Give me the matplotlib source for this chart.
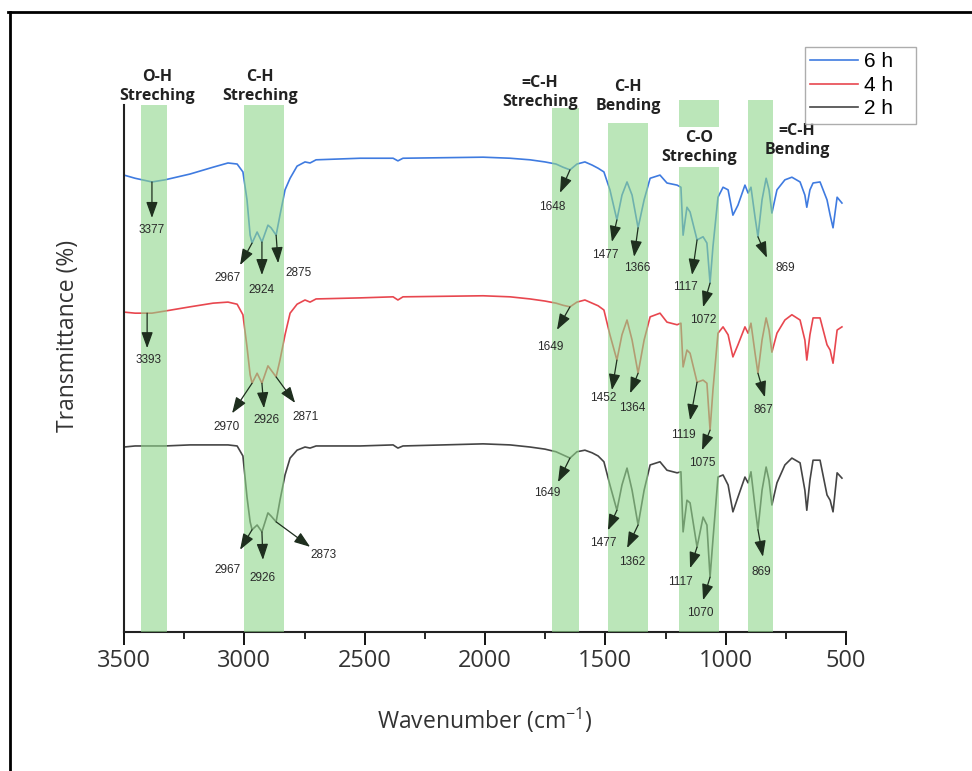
import numpy as np
import matplotlib.pyplot as plt
from matplotlib.lines import Line2D
from matplotlib.ticker import MultipleLocator

plt.rcParams['font.family'] = ['Open Sans', 'DejaVu Sans']
plt.rcParams['mathtext.fontset'] = 'custom'
plt.rcParams['mathtext.rm'] = 'Open Sans'

# spectra (wavenumber in cm-1, transmittance with the stacking offset)
wavenumber = [3500, 3454, 3404, 3384, 3330, 3226, 3130, 3068, 3030, 3006,
              2989, 2976, 2968, 2947, 2927, 2902, 2889, 2868, 2852, 2831,
              2810, 2781, 2748, 2727, 2702, 2519, 2382, 2362, 2341, 2008,
              1896, 1813, 1751, 1705, 1676, 1647, 1618, 1585, 1555, 1530,
              1506, 1481, 1452, 1431, 1410, 1389, 1364, 1339, 1314, 1273,
              1244, 1202, 1186, 1177, 1161, 1148, 1119, 1094, 1078, 1065,
              1053, 1032, 1011, 990, 970, 949, 920, 907, 895, 878,
              866, 849, 832, 820, 808, 787, 754, 725, 691, 671,
              663, 650, 637, 608, 579, 566, 554, 537, 517]

t_6h = [86.7, 86.1, 85.6, 85.4, 85.8, 86.9, 88.2, 89.0, 88.8, 87.3,
        82.0, 75.3, 73.8, 75.9, 74.0, 77.2, 76.7, 75.3, 79.1, 83.9,
        86.1, 88.4, 89.2, 89.0, 89.6, 89.9, 89.9, 89.4, 89.9, 90.1,
        89.9, 89.6, 89.2, 88.8, 88.2, 87.7, 88.8, 89.2, 88.6, 88.0,
        87.3, 83.9, 78.2, 82.9, 85.4, 82.9, 76.7, 82.0, 86.1, 86.7,
        85.2, 84.8, 84.4, 75.3, 80.6, 79.7, 74.4, 75.0, 73.8, 66.2,
        73.1, 82.5, 84.4, 83.9, 79.1, 81.0, 84.8, 83.3, 84.4, 78.7,
        75.0, 82.0, 86.1, 83.9, 79.5, 83.9, 85.8, 86.3, 85.4, 82.9,
        80.6, 83.9, 85.2, 85.4, 82.0, 79.1, 76.7, 82.5, 81.4]

t_4h = [60.7, 60.5, 60.5, 60.5, 60.9, 61.7, 62.4, 62.6, 62.2, 60.2,
        54.1, 48.8, 47.2, 49.1, 47.2, 50.5, 49.7, 48.4, 51.6, 56.4,
        60.5, 62.2, 63.0, 62.6, 63.2, 63.4, 63.6, 63.0, 63.6, 63.8,
        63.6, 63.2, 62.8, 62.4, 62.0, 61.7, 62.6, 63.0, 62.4, 61.9,
        61.1, 56.4, 51.6, 56.4, 59.2, 55.4, 49.1, 55.4, 59.8, 60.5,
        58.8, 58.3, 58.6, 50.3, 53.5, 52.9, 47.4, 47.8, 47.2, 38.3,
        45.9, 56.7, 57.9, 56.4, 52.2, 54.5, 57.9, 56.7, 58.6, 52.9,
        49.1, 55.4, 59.6, 57.3, 53.1, 56.7, 59.2, 60.2, 59.2, 55.4,
        51.6, 56.4, 59.6, 59.6, 54.5, 53.5, 51.0, 57.3, 57.9]

t_2h = [35.1, 35.3, 35.3, 35.3, 35.3, 35.5, 35.5, 35.5, 35.3, 33.4,
        25.6, 20.9, 19.4, 20.3, 19.0, 22.6, 22.0, 20.9, 25.0, 29.8,
        33.0, 34.5, 35.1, 34.9, 35.3, 35.3, 35.5, 34.9, 35.3, 35.7,
        35.5, 35.1, 34.7, 34.2, 33.6, 33.0, 34.2, 34.5, 34.0, 33.4,
        32.3, 27.9, 23.1, 27.9, 31.1, 26.9, 20.3, 26.9, 31.7, 32.3,
        30.7, 30.2, 30.4, 19.0, 25.0, 24.5, 16.1, 21.8, 20.3, 10.4,
        17.5, 29.4, 29.8, 27.9, 22.8, 25.6, 29.4, 28.3, 30.4, 23.7,
        19.4, 26.9, 31.3, 28.8, 24.1, 28.3, 31.7, 33.0, 32.1, 26.9,
        23.1, 28.8, 32.6, 32.6, 26.0, 25.0, 22.8, 30.2, 29.2]

series_names = ['6 h', '4 h', '2 h']
line_colors = ['#3f7be0', '#e8474f', '#454545']

# highlighted regions (cm-1) and their labels
band_ranges = [(3429, 3321), (3001, 2835), (1722, 1610), (1489, 1323), (1194, 1028), (907, 803)]
band_names = ['O-H\nStreching', 'C-H\nStreching', '=C-H\nStreching',
              'C-H\nBending', 'C-O\nStreching', '=C-H\nBending']
band_tops = [1.0, 1.0, 0.994, 0.966, 1.01, 1.01]
band_label_pos = [(3363, 1.036), (2935, 1.036), (1771, 1.023), (1406, 1.017), (1111, 0.920), (704, 0.932)]

# peak labels: (text, wavenumber of the marked point)
peaks_6h = [('3377', 3384), ('2967', 2968), ('2924', 2927), ('2875', 2868), ('1648', 1647),
            ('1477', 1452), ('1366', 1364), ('1117', 1119), ('1072', 1065), ('869', 866)]
peaks_4h = [('3393', 3404), ('2970', 2968), ('2926', 2927), ('2871', 2868), ('1649', 1647),
            ('1452', 1452), ('1364', 1364), ('1119', 1119), ('1075', 1065), ('867', 866)]
peaks_2h = [('2967', 2968), ('2926', 2927), ('2873', 2868), ('1649', 1647),
            ('1477', 1452), ('1362', 1364), ('1117', 1119), ('1070', 1065), ('869', 866)]

# arrow tip and label offsets in pixels from the marked point
offs_6h = [(0, -36, 0, -48), (-12, -22, -24, -35), (0, -33, 0, -48), (2, -28, 22, -38),
           (-10, -23, -18, -37), (-5, -22, -12, -35), (-4, -29, -1, -40), (-5, -35, -12, -47),
           (-7, -24, -7, -37), (9, -21, 27, -31)]
offs_4h = [(0, -35, 1, -47), (-20, -30, -25, -44), (2, -25, 5, -37), (19, -26, 29, -40),
           (-13, -23, -20, -40), (-5, -30, -14, -38), (-8, -20, -6, -35), (-7, -38, -14, -53),
           (-8, -20, -8, -33), (7, -24, 5, -37)]
offs_2h = [(-12, -20, -24, -40), (1, -28, 1, -46), (34, -25, 47, -33),
           (-12, -24, -23, -35), (-9, -20, -14, -33), (-11, -23, -6, -37), (-7, -21, -17, -35),
           (-7, -23, -10, -36), (5, -27, 3, -42)]

fig = plt.figure(figsize=(9.72, 7.71), dpi=100)
ax = fig.add_axes([0.1276, 0.1803, 0.7428, 0.6835])

wn = np.array(wavenumber)
curves = [t_6h, t_4h, t_2h]
for vals, name, c in zip(curves, series_names, line_colors):
    ax.plot(wn, vals, color=c, lw=1.2, label=name, zorder=2)

for (a, b), top in zip(band_ranges, band_tops):
    ax.axvspan(a, b, ymin=0, ymax=top, color='#8fd68b', alpha=0.6, lw=0, zorder=3, clip_on=False)

for vals, peaks, offs in zip(curves, [peaks_6h, peaks_4h, peaks_2h], [offs_6h, offs_4h, offs_2h]):
    for (lab, w), (tdx, tdy, lx, ly) in zip(peaks, offs):
        i = np.argmin(np.abs(wn - w))
        ax.annotate('', xy=(wn[i], vals[i]), xytext=(tdx, tdy), textcoords='offset pixels',
                    arrowprops=dict(arrowstyle='<|-, head_length=0.75, head_width=0.27',
                                    color='#1e2e1e', lw=0.9, shrinkA=0, shrinkB=0,
                                    mutation_scale=13),
                    zorder=4)
        ax.annotate(lab, xy=(wn[i], vals[i]), xytext=(lx, ly), textcoords='offset pixels',
                    ha='center', va='center', fontsize=8.5, family='Liberation Sans',
                    color='#2a2a2a', zorder=4)

for name, (x, y) in zip(band_names, band_label_pos):
    bbox = dict(facecolor='white', edgecolor='none', pad=2) if name.startswith('C-O') else None
    ax.text(x, y, name, transform=ax.get_xaxis_transform(), ha='center', va='center',
            fontsize=11.5, fontweight='bold', color='#222222', linespacing=1.25,
            bbox=bbox, zorder=5)

ax.set_xlim(3500, 500)
ax.set_ylim(0, 100)
ax.set_xticks(range(3500, 499, -500))
ax.xaxis.set_minor_locator(MultipleLocator(250))
ax.set_yticks([])
ax.tick_params(axis='x', which='major', length=9, width=1.3, labelsize=17, pad=3,
               labelcolor='#333333')
ax.tick_params(axis='x', which='minor', length=5, width=1.2)
for s in ['top', 'right']:
    ax.spines[s].set_visible(False)
for s in ['left', 'bottom']:
    ax.spines[s].set_linewidth(1.5)
    ax.spines[s].set_color('#222222')

ax.set_xlabel(r'Wavenumber (cm$^{\mathregular{-1}}$)', fontsize=16.5, color='#333333', labelpad=24)
ax.set_ylabel('Transmittance (%)', fontsize=16.5, color='#333333')
ax.yaxis.set_label_coords(-0.061, 0.562)

fig.legend(loc='upper left', bbox_to_anchor=(805 / 972, 1 - 123 / 771, 111 / 972, 76 / 771),
           mode='expand', frameon=True, fancybox=False, edgecolor='#999999', borderaxespad=0,
           prop={'family': 'Liberation Sans', 'size': 15},
           handlelength=2.3, handletextpad=0.3, labelspacing=0.22, borderpad=0.25)

# outer frame of the screenshot
fig.add_artist(Line2D([10 / 972, 10 / 972], [0, 1 - 12 / 771], transform=fig.transFigure, color='k', lw=2))
fig.add_artist(Line2D([8 / 972, 1], [1 - 12 / 771, 1 - 12 / 771], transform=fig.transFigure, color='k', lw=2))

fig.savefig('out.png', dpi=100)
